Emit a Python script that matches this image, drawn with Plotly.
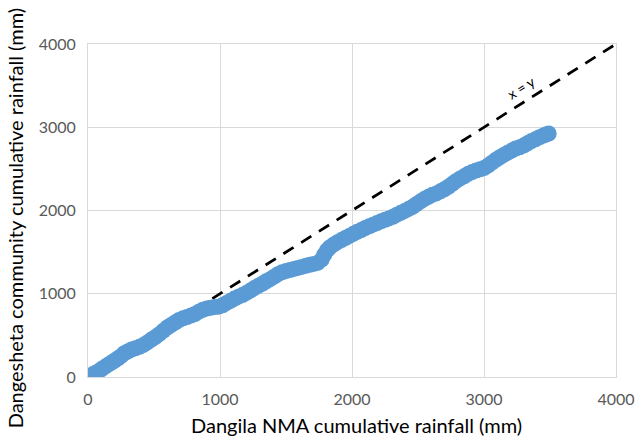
import plotly.graph_objects as go

# Dangila NMA cumulative rainfall (mm)
nma_cum = [0, 10, 25, 40, 60, 80, 100, 125, 150, 175, 200, 225, 250, 275, 300, 330, 360, 390, 420, 450,
           480, 510, 540, 570, 600, 630, 660, 690, 720, 750, 780, 810, 840, 870, 900, 930, 960, 990, 1020, 1050,
           1080, 1110, 1140, 1170, 1200, 1230, 1260, 1290, 1320, 1350, 1380, 1410, 1440, 1470, 1500, 1530, 1560, 1590, 1620, 1650,
           1680, 1710, 1740, 1770, 1790, 1810, 1830, 1860, 1890, 1920, 1950, 1980, 2010, 2040, 2070, 2100, 2130, 2160, 2190, 2220,
           2250, 2280, 2310, 2340, 2370, 2400, 2430, 2460, 2490, 2520, 2550, 2580, 2610, 2640, 2670, 2700, 2730, 2760, 2790, 2820,
           2850, 2880, 2910, 2940, 2970, 3000, 3030, 3060, 3090, 3120, 3150, 3180, 3210, 3240, 3270, 3300, 3330, 3360, 3390, 3420,
           3450, 3470, 3490]
# Dangesheta community cumulative rainfall (mm)
community_cum = [0, 8, 20, 35, 52, 70, 92, 118, 145, 170, 195, 222, 250, 285, 305, 330, 345, 362, 385, 415,
                 450, 480, 515, 555, 595, 625, 655, 685, 705, 720, 738, 757, 785, 808, 822, 832, 840, 845, 862, 890,
                 915, 942, 965, 985, 1010, 1038, 1068, 1095, 1120, 1150, 1175, 1205, 1235, 1258, 1272, 1285, 1298, 1310, 1322, 1335,
                 1348, 1358, 1370, 1410, 1470, 1520, 1555, 1590, 1620, 1645, 1670, 1695, 1720, 1745, 1765, 1790, 1810, 1830, 1850, 1870,
                 1888, 1905, 1925, 1950, 1972, 1995, 2020, 2045, 2078, 2110, 2140, 2165, 2190, 2205, 2230, 2255, 2285, 2320, 2355, 2385,
                 2410, 2440, 2462, 2480, 2495, 2510, 2540, 2575, 2610, 2640, 2668, 2695, 2720, 2745, 2760, 2780, 2808, 2835, 2855, 2880,
                 2900, 2912, 2925]

# 1:1 reference line
ref_x = [0, 4000]
ref_y = [0, 4000]

tick_vals = [0, 1000, 2000, 3000, 4000]
tick_text = ["0", "1000", "2000", "3000", "4000"]

FONT = "Lato, 'Open Sans', sans-serif"

fig = go.Figure()
fig.add_trace(go.Scatter(
    x=ref_x, y=ref_y, mode="lines",
    line=dict(color="black", width=2.75, dash="12px,9px"),
    hoverinfo="skip", showlegend=False))
fig.add_trace(go.Scatter(
    x=nma_cum, y=community_cum, mode="markers",
    marker=dict(color="#5B9BD5", size=16, line=dict(width=0)),
    showlegend=False))

axis_common = dict(
    range=[0, 4000], tickvals=tick_vals, ticktext=tick_text,
    showgrid=True, gridcolor="#D9D9D9", gridwidth=1,
    zeroline=False, showline=True, linecolor="#D9D9D9", linewidth=1, mirror=True,
    ticks="outside", ticklen=8, tickcolor="rgba(0,0,0,0)",
    tickfont=dict(family=FONT, size=16, color="#595959"),
    fixedrange=True, automargin=False,
)
fig.update_xaxes(**axis_common)
fig.update_yaxes(**axis_common)

fig.update_layout(
    width=636, height=438,
    margin=dict(l=88, r=20, t=44, b=61, autoexpand=False),
    paper_bgcolor="white", plot_bgcolor="white",
    font=dict(family=FONT),
    annotations=[
        dict(text="Dangila NMA cumulative rainfall (mm)", xref="paper", yref="paper",
             x=0.509, y=-0.144, xanchor="center", yanchor="middle", showarrow=False,
             font=dict(family=FONT, size=20, color="black")),
        dict(text="Dangesheta community cumulative rainfall (mm)", xref="paper", yref="paper",
             x=-0.138, y=0.477, xanchor="center", yanchor="middle", showarrow=False, textangle=-90,
             font=dict(family=FONT, size=20, color="black")),
        dict(text="x = y", xref="x", yref="y", x=3280, y=3483, xanchor="center", yanchor="middle",
             showarrow=False, textangle=-32,
             font=dict(family=FONT, size=14, color="black")),
    ],
)

fig.write_html("out.html", config={"displayModeBar": False},
               post_script="document.body.style.margin='0';document.body.style.overflow='hidden';")
